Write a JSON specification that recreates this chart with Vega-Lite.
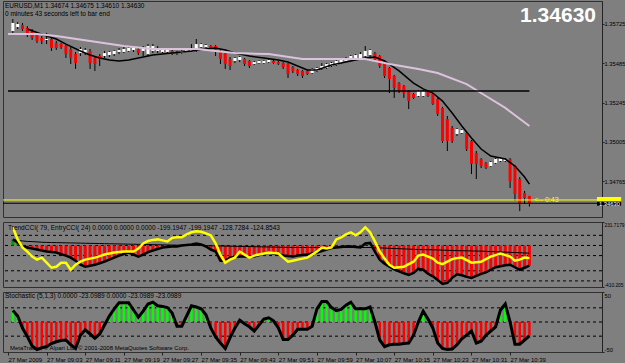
{
"$schema": "https://vega.github.io/schema/vega-lite/v6.json",
"background": "#7f7f7f",
"padding": {"left": 2, "right": 0, "top": 0, "bottom": 0},
"autosize": {"type": "pad"},
"spacing": 5,
"bounds": "flush",
"config": {
  "font": "Liberation Sans",
  "view": {"stroke": "#303030", "strokeWidth": 1},
  "axis": {"grid": false, "title": null, "labelFont": "Liberation Sans", "labelFontSize": 6, "labelColor": "#000000", "tickColor": "#222222", "domainColor": "#222222", "tickSize": 3, "labelPadding": 1, "labelOverlap": false, "labelBound": false},
  "axisRight": {"tickSize": 2, "labelPadding": 0, "labelFontSize": 5.8},
  "title": {"font": "Liberation Sans", "fontSize": 6.5, "fontWeight": "normal", "color": "#000000", "anchor": "start", "frame": "group"}
},
"datasets": {
"bars": [
{"t":"2009-03-27T08:56","o":1.35682,"h":1.35755,"l":1.35663,"c":1.35731,"ct":60,"ce":180,"cs":60,"st":19},
{"t":"2009-03-27T08:57","o":1.35706,"h":1.35737,"l":1.35694,"c":1.35725,"ct":30,"ce":60,"cs":50,"st":10},
{"t":"2009-03-27T08:58","o":1.35718,"h":1.35731,"l":1.35682,"c":1.35694,"ct":-10,"ce":-20,"cs":45,"st":-10},
{"t":"2009-03-27T08:59","o":1.35700,"h":1.35712,"l":1.35645,"c":1.35657,"ct":-20,"ce":-60,"cs":40,"st":-24},
{"t":"2009-03-27T09:00","o":1.35682,"h":1.35694,"l":1.35627,"c":1.35639,"ct":-30,"ce":-110,"cs":38,"st":-40},
{"t":"2009-03-27T09:01","o":1.35663,"h":1.35676,"l":1.35608,"c":1.35621,"ct":-40,"ce":-140,"cs":35,"st":-46},
{"t":"2009-03-27T09:02","o":1.35639,"h":1.35651,"l":1.35602,"c":1.35621,"ct":-50,"ce":-120,"cs":32,"st":-43},
{"t":"2009-03-27T09:03","o":1.35627,"h":1.35670,"l":1.35602,"c":1.35633,"ct":-60,"ce":-170,"cs":30,"st":-41},
{"t":"2009-03-27T09:04","o":1.35633,"h":1.35645,"l":1.35560,"c":1.35578,"ct":-65,"ce":-220,"cs":29,"st":-36},
{"t":"2009-03-27T09:05","o":1.35608,"h":1.35621,"l":1.35566,"c":1.35578,"ct":-70,"ce":-210,"cs":28,"st":-33},
{"t":"2009-03-27T09:06","o":1.35602,"h":1.35608,"l":1.35572,"c":1.35584,"ct":-85,"ce":-170,"cs":27,"st":-31},
{"t":"2009-03-27T09:07","o":1.35590,"h":1.35596,"l":1.35517,"c":1.35541,"ct":-100,"ce":-170,"cs":26,"st":-30},
{"t":"2009-03-27T09:08","o":1.35572,"h":1.35584,"l":1.35480,"c":1.35517,"ct":-120,"ce":-240,"cs":25,"st":-38},
{"t":"2009-03-27T09:09","o":1.35541,"h":1.35554,"l":1.35450,"c":1.35486,"ct":-150,"ce":-190,"cs":24,"st":-44},
{"t":"2009-03-27T09:10","o":1.35547,"h":1.35584,"l":1.35529,"c":1.35572,"ct":-190,"ce":-160,"cs":23,"st":-22},
{"t":"2009-03-27T09:11","o":1.35547,"h":1.35578,"l":1.35535,"c":1.35566,"ct":-210,"ce":-140,"cs":22,"st":-13},
{"t":"2009-03-27T09:12","o":1.35560,"h":1.35572,"l":1.35450,"c":1.35486,"ct":-200,"ce":-130,"cs":21,"st":-20},
{"t":"2009-03-27T09:13","o":1.35517,"h":1.35529,"l":1.35438,"c":1.35480,"ct":-190,"ce":-120,"cs":20,"st":-27},
{"t":"2009-03-27T09:14","o":1.35529,"h":1.35541,"l":1.35468,"c":1.35511,"ct":-175,"ce":-105,"cs":19,"st":-20},
{"t":"2009-03-27T09:15","o":1.35529,"h":1.35560,"l":1.35517,"c":1.35547,"ct":-160,"ce":-90,"cs":18,"st":-5},
{"t":"2009-03-27T09:16","o":1.35535,"h":1.35560,"l":1.35523,"c":1.35554,"ct":-140,"ce":-80,"cs":17,"st":10},
{"t":"2009-03-27T09:17","o":1.35541,"h":1.35566,"l":1.35529,"c":1.35560,"ct":-120,"ce":-70,"cs":16,"st":22},
{"t":"2009-03-27T09:18","o":1.35554,"h":1.35578,"l":1.35541,"c":1.35566,"ct":-100,"ce":-65,"cs":15,"st":32},
{"t":"2009-03-27T09:19","o":1.35554,"h":1.35584,"l":1.35547,"c":1.35572,"ct":-85,"ce":-60,"cs":14,"st":32},
{"t":"2009-03-27T09:20","o":1.35560,"h":1.35590,"l":1.35554,"c":1.35578,"ct":-70,"ce":-60,"cs":13,"st":32},
{"t":"2009-03-27T09:21","o":1.35566,"h":1.35590,"l":1.35554,"c":1.35578,"ct":-90,"ce":-60,"cs":12,"st":20},
{"t":"2009-03-27T09:22","o":1.35572,"h":1.35584,"l":1.35535,"c":1.35547,"ct":-110,"ce":-30,"cs":11,"st":8},
{"t":"2009-03-27T09:23","o":1.35560,"h":1.35590,"l":1.35529,"c":1.35578,"ct":-90,"ce":20,"cs":10,"st":18},
{"t":"2009-03-27T09:24","o":1.35541,"h":1.35602,"l":1.35529,"c":1.35590,"ct":-65,"ce":45,"cs":9,"st":30},
{"t":"2009-03-27T09:25","o":1.35560,"h":1.35602,"l":1.35547,"c":1.35590,"ct":-50,"ce":55,"cs":8,"st":33},
{"t":"2009-03-27T09:26","o":1.35560,"h":1.35590,"l":1.35547,"c":1.35578,"ct":-35,"ce":60,"cs":7,"st":27},
{"t":"2009-03-27T09:27","o":1.35554,"h":1.35572,"l":1.35547,"c":1.35566,"ct":-20,"ce":50,"cs":6,"st":26},
{"t":"2009-03-27T09:28","o":1.35554,"h":1.35572,"l":1.35547,"c":1.35566,"ct":-15,"ce":40,"cs":5,"st":24},
{"t":"2009-03-27T09:29","o":1.35560,"h":1.35566,"l":1.35535,"c":1.35541,"ct":-10,"ce":75,"cs":4,"st":15},
{"t":"2009-03-27T09:30","o":1.35554,"h":1.35560,"l":1.35535,"c":1.35541,"ct":-10,"ce":80,"cs":3,"st":-7},
{"t":"2009-03-27T09:31","o":1.35547,"h":1.35566,"l":1.35541,"c":1.35560,"ct":0,"ce":80,"cs":2,"st":-7},
{"t":"2009-03-27T09:32","o":1.35560,"h":1.35578,"l":1.35554,"c":1.35572,"ct":5,"ce":110,"cs":1,"st":10},
{"t":"2009-03-27T09:33","o":1.35560,"h":1.35602,"l":1.35554,"c":1.35578,"ct":10,"ce":130,"cs":0,"st":27},
{"t":"2009-03-27T09:34","o":1.35560,"h":1.35633,"l":1.35554,"c":1.35602,"ct":20,"ce":140,"cs":0,"st":25},
{"t":"2009-03-27T09:35","o":1.35584,"h":1.35608,"l":1.35578,"c":1.35602,"ct":10,"ce":135,"cs":-1,"st":22},
{"t":"2009-03-27T09:36","o":1.35584,"h":1.35602,"l":1.35578,"c":1.35596,"ct":-10,"ce":120,"cs":-2,"st":12},
{"t":"2009-03-27T09:37","o":1.35590,"h":1.35596,"l":1.35572,"c":1.35578,"ct":-40,"ce":100,"cs":-3,"st":-10},
{"t":"2009-03-27T09:38","o":1.35590,"h":1.35596,"l":1.35529,"c":1.35560,"ct":-60,"ce":20,"cs":-4,"st":-25},
{"t":"2009-03-27T09:39","o":1.35560,"h":1.35566,"l":1.35480,"c":1.35511,"ct":-150,"ce":-90,"cs":-5,"st":-35},
{"t":"2009-03-27T09:40","o":1.35547,"h":1.35554,"l":1.35450,"c":1.35480,"ct":-150,"ce":-170,"cs":-6,"st":-44},
{"t":"2009-03-27T09:41","o":1.35511,"h":1.35523,"l":1.35444,"c":1.35468,"ct":-120,"ce":-140,"cs":-7,"st":-26},
{"t":"2009-03-27T09:42","o":1.35499,"h":1.35523,"l":1.35486,"c":1.35517,"ct":-115,"ce":-120,"cs":-8,"st":-10},
{"t":"2009-03-27T09:43","o":1.35505,"h":1.35529,"l":1.35492,"c":1.35523,"ct":-110,"ce":-60,"cs":-9,"st":3},
{"t":"2009-03-27T09:44","o":1.35511,"h":1.35517,"l":1.35468,"c":1.35480,"ct":-110,"ce":-90,"cs":-10,"st":-3},
{"t":"2009-03-27T09:45","o":1.35499,"h":1.35505,"l":1.35456,"c":1.35468,"ct":-110,"ce":-120,"cs":-11,"st":-8},
{"t":"2009-03-27T09:46","o":1.35480,"h":1.35499,"l":1.35474,"c":1.35492,"ct":-110,"ce":-100,"cs":-12,"st":-15},
{"t":"2009-03-27T09:47","o":1.35486,"h":1.35505,"l":1.35480,"c":1.35499,"ct":-95,"ce":-90,"cs":-13,"st":-5},
{"t":"2009-03-27T09:48","o":1.35486,"h":1.35505,"l":1.35480,"c":1.35499,"ct":-80,"ce":-80,"cs":-14,"st":5},
{"t":"2009-03-27T09:49","o":1.35492,"h":1.35511,"l":1.35486,"c":1.35505,"ct":-70,"ce":-70,"cs":-15,"st":7},
{"t":"2009-03-27T09:50","o":1.35499,"h":1.35505,"l":1.35480,"c":1.35486,"ct":-80,"ce":-75,"cs":-16,"st":2},
{"t":"2009-03-27T09:51","o":1.35492,"h":1.35499,"l":1.35474,"c":1.35480,"ct":-90,"ce":-80,"cs":-17,"st":-10},
{"t":"2009-03-27T09:52","o":1.35486,"h":1.35492,"l":1.35450,"c":1.35462,"ct":-100,"ce":-120,"cs":-18,"st":-29},
{"t":"2009-03-27T09:53","o":1.35480,"h":1.35486,"l":1.35395,"c":1.35419,"ct":-105,"ce":-160,"cs":-19,"st":-29},
{"t":"2009-03-27T09:54","o":1.35462,"h":1.35468,"l":1.35425,"c":1.35438,"ct":-110,"ce":-150,"cs":-20,"st":-22},
{"t":"2009-03-27T09:55","o":1.35444,"h":1.35450,"l":1.35407,"c":1.35419,"ct":-100,"ce":-140,"cs":-20,"st":-12},
{"t":"2009-03-27T09:56","o":1.35438,"h":1.35444,"l":1.35395,"c":1.35407,"ct":-95,"ce":-130,"cs":-20,"st":-12},
{"t":"2009-03-27T09:57","o":1.35438,"h":1.35444,"l":1.35413,"c":1.35419,"ct":-90,"ce":-120,"cs":-20,"st":-12},
{"t":"2009-03-27T09:58","o":1.35425,"h":1.35456,"l":1.35419,"c":1.35450,"ct":-80,"ce":-90,"cs":-20,"st":-7},
{"t":"2009-03-27T09:59","o":1.35438,"h":1.35462,"l":1.35431,"c":1.35456,"ct":-70,"ce":-60,"cs":-20,"st":22},
{"t":"2009-03-27T10:00","o":1.35450,"h":1.35486,"l":1.35444,"c":1.35468,"ct":-55,"ce":-20,"cs":-20,"st":34},
{"t":"2009-03-27T10:01","o":1.35456,"h":1.35486,"l":1.35450,"c":1.35480,"ct":-40,"ce":-30,"cs":-20,"st":34},
{"t":"2009-03-27T10:02","o":1.35468,"h":1.35492,"l":1.35462,"c":1.35486,"ct":-25,"ce":-20,"cs":-20,"st":24},
{"t":"2009-03-27T10:03","o":1.35474,"h":1.35505,"l":1.35468,"c":1.35499,"ct":-20,"ce":60,"cs":-20,"st":19},
{"t":"2009-03-27T10:04","o":1.35486,"h":1.35517,"l":1.35480,"c":1.35511,"ct":-15,"ce":80,"cs":-20,"st":21},
{"t":"2009-03-27T10:05","o":1.35499,"h":1.35523,"l":1.35492,"c":1.35517,"ct":-10,"ce":110,"cs":-20,"st":28},
{"t":"2009-03-27T10:06","o":1.35511,"h":1.35535,"l":1.35505,"c":1.35529,"ct":-10,"ce":130,"cs":-20,"st":33},
{"t":"2009-03-27T10:07","o":1.35517,"h":1.35541,"l":1.35511,"c":1.35535,"ct":-15,"ce":100,"cs":-20,"st":22},
{"t":"2009-03-27T10:08","o":1.35517,"h":1.35554,"l":1.35511,"c":1.35541,"ct":-20,"ce":130,"cs":-20,"st":22},
{"t":"2009-03-27T10:09","o":1.35529,"h":1.35590,"l":1.35523,"c":1.35560,"ct":20,"ce":180,"cs":-20,"st":22},
{"t":"2009-03-27T10:10","o":1.35535,"h":1.35572,"l":1.35523,"c":1.35566,"ct":25,"ce":130,"cs":-20,"st":25},
{"t":"2009-03-27T10:11","o":1.35547,"h":1.35554,"l":1.35499,"c":1.35511,"ct":-60,"ce":40,"cs":-22,"st":0},
{"t":"2009-03-27T10:12","o":1.35529,"h":1.35535,"l":1.35456,"c":1.35468,"ct":-140,"ce":-60,"cs":-24,"st":-30},
{"t":"2009-03-27T10:13","o":1.35499,"h":1.35505,"l":1.35395,"c":1.35407,"ct":-180,"ce":-130,"cs":-26,"st":-41},
{"t":"2009-03-27T10:14","o":1.35456,"h":1.35462,"l":1.35303,"c":1.35389,"ct":-210,"ce":-190,"cs":-28,"st":-38},
{"t":"2009-03-27T10:15","o":1.35407,"h":1.35413,"l":1.35273,"c":1.35334,"ct":-235,"ce":-220,"cs":-30,"st":-37},
{"t":"2009-03-27T10:16","o":1.35364,"h":1.35370,"l":1.35303,"c":1.35315,"ct":-255,"ce":-215,"cs":-32,"st":-37},
{"t":"2009-03-27T10:17","o":1.35346,"h":1.35352,"l":1.35273,"c":1.35303,"ct":-275,"ce":-210,"cs":-34,"st":-36},
{"t":"2009-03-27T10:18","o":1.35315,"h":1.35321,"l":1.35205,"c":1.35254,"ct":-290,"ce":-185,"cs":-36,"st":-35},
{"t":"2009-03-27T10:19","o":1.35297,"h":1.35303,"l":1.35267,"c":1.35273,"ct":-270,"ce":-160,"cs":-38,"st":-22},
{"t":"2009-03-27T10:20","o":1.35285,"h":1.35321,"l":1.35279,"c":1.35315,"ct":-230,"ce":-100,"cs":-40,"st":0},
{"t":"2009-03-27T10:21","o":1.35285,"h":1.35321,"l":1.35279,"c":1.35315,"ct":-240,"ce":-90,"cs":-41,"st":18},
{"t":"2009-03-27T10:22","o":1.35309,"h":1.35315,"l":1.35279,"c":1.35285,"ct":-280,"ce":-110,"cs":-42,"st":5},
{"t":"2009-03-27T10:23","o":1.35297,"h":1.35303,"l":1.35230,"c":1.35236,"ct":-305,"ce":-130,"cs":-43,"st":-10},
{"t":"2009-03-27T10:24","o":1.35267,"h":1.35273,"l":1.35163,"c":1.35175,"ct":-340,"ce":-170,"cs":-44,"st":-35},
{"t":"2009-03-27T10:25","o":1.35212,"h":1.35218,"l":1.34998,"c":1.35010,"ct":-380,"ce":-185,"cs":-46,"st":-44},
{"t":"2009-03-27T10:26","o":1.35144,"h":1.35163,"l":1.34949,"c":1.35010,"ct":-370,"ce":-160,"cs":-48,"st":-46},
{"t":"2009-03-27T10:27","o":1.35089,"h":1.35102,"l":1.34998,"c":1.35010,"ct":-320,"ce":-135,"cs":-50,"st":-45},
{"t":"2009-03-27T10:28","o":1.35053,"h":1.35089,"l":1.35041,"c":1.35083,"ct":-285,"ce":-125,"cs":-51,"st":-38},
{"t":"2009-03-27T10:29","o":1.35059,"h":1.35083,"l":1.35053,"c":1.35077,"ct":-295,"ce":-120,"cs":-52,"st":-28},
{"t":"2009-03-27T10:30","o":1.35059,"h":1.35065,"l":1.34949,"c":1.34961,"ct":-310,"ce":-145,"cs":-53,"st":-22},
{"t":"2009-03-27T10:31","o":1.35010,"h":1.35016,"l":1.34808,"c":1.34870,"ct":-320,"ce":-170,"cs":-54,"st":-15},
{"t":"2009-03-27T10:32","o":1.34937,"h":1.34949,"l":1.34778,"c":1.34870,"ct":-300,"ce":-165,"cs":-55,"st":-35},
{"t":"2009-03-27T10:33","o":1.34900,"h":1.34906,"l":1.34845,"c":1.34857,"ct":-280,"ce":-160,"cs":-56,"st":-32},
{"t":"2009-03-27T10:34","o":1.34876,"h":1.34882,"l":1.34839,"c":1.34845,"ct":-265,"ce":-135,"cs":-58,"st":-22},
{"t":"2009-03-27T10:35","o":1.34857,"h":1.34888,"l":1.34851,"c":1.34882,"ct":-240,"ce":-110,"cs":-60,"st":-15},
{"t":"2009-03-27T10:36","o":1.34876,"h":1.34906,"l":1.34870,"c":1.34900,"ct":-215,"ce":-95,"cs":-62,"st":-8},
{"t":"2009-03-27T10:37","o":1.34888,"h":1.34912,"l":1.34882,"c":1.34906,"ct":-205,"ce":-80,"cs":-64,"st":20},
{"t":"2009-03-27T10:38","o":1.34888,"h":1.34906,"l":1.34882,"c":1.34900,"ct":-195,"ce":-95,"cs":-66,"st":30},
{"t":"2009-03-27T10:39","o":1.34900,"h":1.34906,"l":1.34723,"c":1.34766,"ct":-190,"ce":-110,"cs":-68,"st":0},
{"t":"2009-03-27T10:40","o":1.34857,"h":1.34863,"l":1.34644,"c":1.34686,"ct":-215,"ce":-150,"cs":-70,"st":-37},
{"t":"2009-03-27T10:41","o":1.34778,"h":1.34790,"l":1.34582,"c":1.34625,"ct":-240,"ce":-140,"cs":-72,"st":-37},
{"t":"2009-03-27T10:42","o":1.34692,"h":1.34705,"l":1.34625,"c":1.34662,"ct":-220,"ce":-120,"cs":-74,"st":-30},
{"t":"2009-03-27T10:43","o":1.34674,"h":1.34675,"l":1.34610,"c":1.34630,"ct":-199,"ce":-125,"cs":-76,"st":-23}
],
"ma": [
{"t":"2009-03-27T08:59","s":"fast","v":1.35694},
{"t":"2009-03-27T09:03","s":"fast","v":1.35651},
{"t":"2009-03-27T09:05","s":"fast","v":1.35633},
{"t":"2009-03-27T09:07","s":"fast","v":1.35602},
{"t":"2009-03-27T09:10","s":"fast","v":1.35560},
{"t":"2009-03-27T09:12","s":"fast","v":1.35535},
{"t":"2009-03-27T09:14","s":"fast","v":1.35517},
{"t":"2009-03-27T09:16","s":"fast","v":1.35505},
{"t":"2009-03-27T09:18","s":"fast","v":1.35499},
{"t":"2009-03-27T09:20","s":"fast","v":1.35505},
{"t":"2009-03-27T09:22","s":"fast","v":1.35517},
{"t":"2009-03-27T09:25","s":"fast","v":1.35535},
{"t":"2009-03-27T09:29","s":"fast","v":1.35547},
{"t":"2009-03-27T09:33","s":"fast","v":1.35560},
{"t":"2009-03-27T09:36","s":"fast","v":1.35572},
{"t":"2009-03-27T09:38","s":"fast","v":1.35578},
{"t":"2009-03-27T09:40","s":"fast","v":1.35566},
{"t":"2009-03-27T09:42","s":"fast","v":1.35547},
{"t":"2009-03-27T09:45","s":"fast","v":1.35529},
{"t":"2009-03-27T09:48","s":"fast","v":1.35517},
{"t":"2009-03-27T09:51","s":"fast","v":1.35505},
{"t":"2009-03-27T09:53","s":"fast","v":1.35492},
{"t":"2009-03-27T09:55","s":"fast","v":1.35468},
{"t":"2009-03-27T09:57","s":"fast","v":1.35444},
{"t":"2009-03-27T09:59","s":"fast","v":1.35444},
{"t":"2009-03-27T10:02","s":"fast","v":1.35474},
{"t":"2009-03-27T10:06","s":"fast","v":1.35499},
{"t":"2009-03-27T10:09","s":"fast","v":1.35517},
{"t":"2009-03-27T10:11","s":"fast","v":1.35523},
{"t":"2009-03-27T10:13","s":"fast","v":1.35499},
{"t":"2009-03-27T10:16","s":"fast","v":1.35438},
{"t":"2009-03-27T10:19","s":"fast","v":1.35364},
{"t":"2009-03-27T10:21","s":"fast","v":1.35328},
{"t":"2009-03-27T10:23","s":"fast","v":1.35303},
{"t":"2009-03-27T10:25","s":"fast","v":1.35254},
{"t":"2009-03-27T10:27","s":"fast","v":1.35181},
{"t":"2009-03-27T10:29","s":"fast","v":1.35102},
{"t":"2009-03-27T10:31","s":"fast","v":1.35028},
{"t":"2009-03-27T10:33","s":"fast","v":1.34961},
{"t":"2009-03-27T10:35","s":"fast","v":1.34918},
{"t":"2009-03-27T10:37","s":"fast","v":1.34906},
{"t":"2009-03-27T10:38","s":"fast","v":1.34900},
{"t":"2009-03-27T10:40","s":"fast","v":1.34857},
{"t":"2009-03-27T10:42","s":"fast","v":1.34790},
{"t":"2009-03-27T10:43","s":"fast","v":1.34747},
{"t":"2009-03-27T08:55","s":"slow","v":1.35663},
{"t":"2009-03-27T09:01","s":"slow","v":1.35663},
{"t":"2009-03-27T09:05","s":"slow","v":1.35651},
{"t":"2009-03-27T09:12","s":"slow","v":1.35621},
{"t":"2009-03-27T09:19","s":"slow","v":1.35590},
{"t":"2009-03-27T09:25","s":"slow","v":1.35572},
{"t":"2009-03-27T09:34","s":"slow","v":1.35572},
{"t":"2009-03-27T09:42","s":"slow","v":1.35547},
{"t":"2009-03-27T09:49","s":"slow","v":1.35541},
{"t":"2009-03-27T09:56","s":"slow","v":1.35511},
{"t":"2009-03-27T10:09","s":"slow","v":1.35511},
{"t":"2009-03-27T10:14","s":"slow","v":1.35480},
{"t":"2009-03-27T10:20","s":"slow","v":1.35450},
{"t":"2009-03-27T10:24","s":"slow","v":1.35425},
{"t":"2009-03-27T10:30","s":"slow","v":1.35358},
{"t":"2009-03-27T10:34","s":"slow","v":1.35285},
{"t":"2009-03-27T10:38","s":"slow","v":1.35212},
{"t":"2009-03-27T10:43","s":"slow","v":1.35102}
]
},
"vconcat": [
{
  "width": 599, "height": 216,
  "title": {"text": ["EURUSD,M1  1.34674 1.34675 1.34610 1.34630", "0 minutes 43 seconds left to bar end"], "offset": -16, "dx": 2, "lineHeight": 7.5},
  "layer": [
    {"data": {"name": "bars"}, "mark": {"type": "rule", "color": "#000000", "strokeWidth": 1},
     "encoding": {
       "x": {"field": "t", "type": "temporal", "scale": {"domain": [{"year":2009,"month":3,"date":27,"hours":8,"minutes":55},{"year":2009,"month":3,"date":27,"hours":10,"minutes":57}]}, "axis": null},
       "y": {"field": "l", "type": "quantitative", "scale": {"domain": [1.34546, 1.35865], "zero": false, "nice": false},
             "axis": {"orient": "right", "values": [1.35845,1.35725,1.35605,1.35485,1.35365,1.35245,1.35125,1.35005,1.34885,1.34765], "format": ".5f"}},
       "y2": {"field": "h"}}},
    {"data": {"name": "bars"}, "mark": {"type": "bar", "width": 3},
     "encoding": {
       "x": {"field": "t", "type": "temporal", "scale": {"domain": [{"year":2009,"month":3,"date":27,"hours":8,"minutes":55},{"year":2009,"month":3,"date":27,"hours":10,"minutes":57}]}, "axis": null},
       "y": {"field": "o", "type": "quantitative", "scale": {"domain": [1.34546, 1.35865], "zero": false, "nice": false}},
       "y2": {"field": "c"},
       "color": {"condition": {"test": "datum.c < datum.o", "value": "#ff0000"}, "value": "#ffffff"}}},
    {"data": {"name": "ma"}, "mark": {"type": "line"},
     "encoding": {
       "x": {"field": "t", "type": "temporal", "scale": {"domain": [{"year":2009,"month":3,"date":27,"hours":8,"minutes":55},{"year":2009,"month":3,"date":27,"hours":10,"minutes":57}]}, "axis": null},
       "y": {"field": "v", "type": "quantitative", "scale": {"domain": [1.34546, 1.35865], "zero": false, "nice": false}},
       "color": {"field": "s", "type": "nominal", "scale": {"domain": ["slow", "fast"], "range": ["#dcc2dc", "#000000"]}, "legend": null},
       "strokeWidth": {"field": "s", "type": "nominal", "scale": {"domain": ["slow", "fast"], "range": [2, 1.5]}, "legend": null}}},
    {"data": {"values": [{}]}, "mark": {"type": "rule", "color": "#000000", "strokeWidth": 1.5},
     "encoding": {
       "x": {"datum": {"year":2009,"month":3,"date":27,"hours":8,"minutes":55}, "type": "temporal", "scale": {"domain": [{"year":2009,"month":3,"date":27,"hours":8,"minutes":55},{"year":2009,"month":3,"date":27,"hours":10,"minutes":57}]}},
       "x2": {"datum": {"year":2009,"month":3,"date":27,"hours":10,"minutes":43}},
       "y": {"datum": 1.35315, "type": "quantitative", "scale": {"domain": [1.34546, 1.35865], "zero": false, "nice": false}}}},
    {"data": {"values": [{}]}, "mark": {"type": "rule", "color": "#ffff00", "strokeWidth": 1},
     "encoding": {"y": {"datum": 1.34650, "type": "quantitative", "scale": {"domain": [1.34546, 1.35865], "zero": false, "nice": false}}}},
    {"data": {"values": [{}]}, "mark": {"type": "rule", "color": "#000000", "strokeWidth": 1},
     "encoding": {"y": {"datum": 1.34630, "type": "quantitative", "scale": {"domain": [1.34546, 1.35865], "zero": false, "nice": false}}}},
    {"data": {"values": [{}]}, "mark": {"type": "text", "text": "<-- 0:43", "color": "#ffff00", "fontSize": 7, "align": "left", "baseline": "middle"},
     "encoding": {
       "x": {"datum": {"year":2009,"month":3,"date":27,"hours":10,"minutes":44}, "type": "temporal", "scale": {"domain": [{"year":2009,"month":3,"date":27,"hours":8,"minutes":55},{"year":2009,"month":3,"date":27,"hours":10,"minutes":57}]}},
       "y": {"datum": 1.34650, "type": "quantitative", "scale": {"domain": [1.34546, 1.35865], "zero": false, "nice": false}}}},
    {"data": {"values": [{}]}, "mark": {"type": "text", "text": "1.34630", "color": "#ffffff", "fontSize": 21, "fontWeight": "bold", "align": "right", "baseline": "top", "dx": -1, "dy": 4},
     "encoding": {
       "x": {"datum": {"year":2009,"month":3,"date":27,"hours":10,"minutes":57}, "type": "temporal", "scale": {"domain": [{"year":2009,"month":3,"date":27,"hours":8,"minutes":55},{"year":2009,"month":3,"date":27,"hours":10,"minutes":57}]}},
       "y": {"datum": 1.35865, "type": "quantitative", "scale": {"domain": [1.34546, 1.35865], "zero": false, "nice": false}}}},
    {"data": {"values": [{}]}, "mark": {"type": "rect", "color": "#ffff00"},
     "encoding": {
       "x": {"datum": {"year":2009,"month":3,"date":27,"hours":10,"minutes":57}, "type": "temporal", "scale": {"domain": [{"year":2009,"month":3,"date":27,"hours":8,"minutes":55},{"year":2009,"month":3,"date":27,"hours":10,"minutes":57}]}},
       "x2": {"datum": {"year":2009,"month":3,"date":27,"hours":11,"minutes":2}},
       "y": {"datum": 1.34668, "type": "quantitative", "scale": {"domain": [1.34546, 1.35865], "zero": false, "nice": false}},
       "y2": {"datum": 1.34640}}},
    {"data": {"values": [{}]}, "mark": {"type": "rect", "color": "#000000"},
     "encoding": {
       "x": {"datum": {"year":2009,"month":3,"date":27,"hours":10,"minutes":57}, "type": "temporal", "scale": {"domain": [{"year":2009,"month":3,"date":27,"hours":8,"minutes":55},{"year":2009,"month":3,"date":27,"hours":10,"minutes":57}]}},
       "x2": {"datum": {"year":2009,"month":3,"date":27,"hours":11,"minutes":2}},
       "y": {"datum": 1.34640, "type": "quantitative", "scale": {"domain": [1.34546, 1.35865], "zero": false, "nice": false}},
       "y2": {"datum": 1.34615}}},
    {"data": {"values": [{}]}, "mark": {"type": "text", "text": "1.34630", "color": "#ffffff", "fontSize": 5.8, "align": "left", "baseline": "middle", "dx": 2},
     "encoding": {
       "x": {"datum": {"year":2009,"month":3,"date":27,"hours":10,"minutes":57}, "type": "temporal", "scale": {"domain": [{"year":2009,"month":3,"date":27,"hours":8,"minutes":55},{"year":2009,"month":3,"date":27,"hours":10,"minutes":57}]}},
       "y": {"datum": 1.34628, "type": "quantitative", "scale": {"domain": [1.34546, 1.35865], "zero": false, "nice": false}}}}
  ]
},
{
  "width": 599, "height": 65,
  "title": {"text": "TrendCCI( 79, EntryCCI( 24)  0.0000 0.0000 0.0000 -199.1947 -199.1947 -128.7284 -124.8543", "offset": -10, "dx": 5},
  "layer": [
    {"data": {"values": [{"v": 100}, {"v": 0}, {"v": -100}, {"v": -250}, {"v": -350}]}, "mark": {"type": "rule", "color": "#000000", "strokeWidth": 1, "strokeDash": [3, 3]},
     "encoding": {"y": {"field": "v", "type": "quantitative", "scale": {"domain": [-410.205, 231.7179], "zero": false, "nice": false},
       "axis": {"orient": "right", "values": [231.7179, 100, 0, -100, -250, -350, -410.205], "labelExpr": "datum.value == 0 ? '0.00' : '' + datum.value", "labelFlush": true,
                "labelFontSize": {"condition": {"test": "abs(datum.value) > 200", "value": 4.8}, "value": 5.8}}}}},
    {"data": {"name": "bars"}, "mark": {"type": "bar", "width": 3},
     "encoding": {
       "x": {"field": "t", "type": "temporal", "scale": {"domain": [{"year":2009,"month":3,"date":27,"hours":8,"minutes":55},{"year":2009,"month":3,"date":27,"hours":10,"minutes":57}]}, "axis": null},
       "y": {"field": "ct", "type": "quantitative", "scale": {"domain": [-410.205, 231.7179], "zero": false, "nice": false}},
       "y2": {"datum": 0},
       "color": {"condition": {"test": "datum.ct < 0", "value": "#ff0000"}, "value": "#009900"}}},
    {"data": {"name": "bars"}, "mark": {"type": "line", "color": "#000000", "strokeWidth": 1},
     "encoding": {
       "x": {"field": "t", "type": "temporal", "scale": {"domain": [{"year":2009,"month":3,"date":27,"hours":8,"minutes":55},{"year":2009,"month":3,"date":27,"hours":10,"minutes":57}]}, "axis": null},
       "y": {"field": "cs", "type": "quantitative", "scale": {"domain": [-410.205, 231.7179], "zero": false, "nice": false}}}},
    {"data": {"name": "bars"}, "mark": {"type": "line", "color": "#000000", "strokeWidth": 2.5},
     "encoding": {
       "x": {"field": "t", "type": "temporal", "scale": {"domain": [{"year":2009,"month":3,"date":27,"hours":8,"minutes":55},{"year":2009,"month":3,"date":27,"hours":10,"minutes":57}]}, "axis": null},
       "y": {"field": "ct", "type": "quantitative", "scale": {"domain": [-410.205, 231.7179], "zero": false, "nice": false}}}},
    {"data": {"name": "bars"}, "mark": {"type": "line", "color": "#ffff00", "strokeWidth": 2.5},
     "encoding": {
       "x": {"field": "t", "type": "temporal", "scale": {"domain": [{"year":2009,"month":3,"date":27,"hours":8,"minutes":55},{"year":2009,"month":3,"date":27,"hours":10,"minutes":57}]}, "axis": null},
       "y": {"field": "ce", "type": "quantitative", "scale": {"domain": [-410.205, 231.7179], "zero": false, "nice": false}}}}
  ]
},
{
  "width": 599, "height": 60,
  "title": {"text": "Stochastic (5,1,3) 0.0000 -23.0989 0.0000 -23.0989 -23.0989", "offset": -8, "dx": 2},
  "layer": [
    {"data": {"values": [{"v": 23.6}, {"v": 0}, {"v": -23.6}]}, "mark": {"type": "rule", "color": "#000000", "strokeWidth": 1, "strokeDash": [3, 3]},
     "encoding": {"y": {"field": "v", "type": "quantitative", "scale": {"domain": [-50, 50], "zero": false, "nice": false},
       "axis": {"orient": "right", "values": [50, 23.6, 0, -23.6, -50], "labelExpr": "datum.value == 0 ? '0.00' : '' + datum.value", "labelFlush": true}}}},
    {"data": {"name": "bars"}, "mark": {"type": "bar", "width": 2.5},
     "encoding": {
       "x": {"field": "t", "type": "temporal", "scale": {"domain": [{"year":2009,"month":3,"date":27,"hours":8,"minutes":55},{"year":2009,"month":3,"date":27,"hours":10,"minutes":57}]},
             "axis": {"values": [
               {"year":2009,"month":3,"date":27,"hours":8,"minutes":55},
               {"year":2009,"month":3,"date":27,"hours":9,"minutes":3},
               {"year":2009,"month":3,"date":27,"hours":9,"minutes":11},
               {"year":2009,"month":3,"date":27,"hours":9,"minutes":19},
               {"year":2009,"month":3,"date":27,"hours":9,"minutes":27},
               {"year":2009,"month":3,"date":27,"hours":9,"minutes":35},
               {"year":2009,"month":3,"date":27,"hours":9,"minutes":43},
               {"year":2009,"month":3,"date":27,"hours":9,"minutes":51},
               {"year":2009,"month":3,"date":27,"hours":9,"minutes":59},
               {"year":2009,"month":3,"date":27,"hours":10,"minutes":7},
               {"year":2009,"month":3,"date":27,"hours":10,"minutes":15},
               {"year":2009,"month":3,"date":27,"hours":10,"minutes":23},
               {"year":2009,"month":3,"date":27,"hours":10,"minutes":31},
               {"year":2009,"month":3,"date":27,"hours":10,"minutes":39}],
               "labelExpr": "timeFormat(datum.value, '%H:%M') == '08:55' ? '27 Mar 2009' : '27 Mar ' + timeFormat(datum.value, '%H:%M')",
               "labelAlign": "left", "domain": false, "labelFlush": false}},
       "y": {"field": "st", "type": "quantitative", "scale": {"domain": [-50, 50], "zero": false, "nice": false}},
       "y2": {"datum": 0},
       "color": {"condition": {"test": "datum.st < 0", "value": "#ff0000"}, "value": "#00ff00"}}},
    {"data": {"name": "bars"}, "mark": {"type": "line", "color": "#000000", "strokeWidth": 3},
     "encoding": {
       "x": {"field": "t", "type": "temporal", "scale": {"domain": [{"year":2009,"month":3,"date":27,"hours":8,"minutes":55},{"year":2009,"month":3,"date":27,"hours":10,"minutes":57}]}},
       "y": {"field": "st", "type": "quantitative", "scale": {"domain": [-50, 50], "zero": false, "nice": false}}}},
    {"data": {"values": [{}]}, "mark": {"type": "text", "text": "MetaTrader, © Alpari Ltd, © 2001-2008 MetaQuotes Software Corp.", "color": "#000000", "fontSize": 6, "align": "left", "baseline": "middle", "dx": 2},
     "encoding": {
       "x": {"datum": {"year":2009,"month":3,"date":27,"hours":8,"minutes":55}, "type": "temporal", "scale": {"domain": [{"year":2009,"month":3,"date":27,"hours":8,"minutes":55},{"year":2009,"month":3,"date":27,"hours":10,"minutes":57}]}},
       "y": {"datum": -44, "type": "quantitative", "scale": {"domain": [-50, 50], "zero": false, "nice": false}}}}
  ]
}
]
}
